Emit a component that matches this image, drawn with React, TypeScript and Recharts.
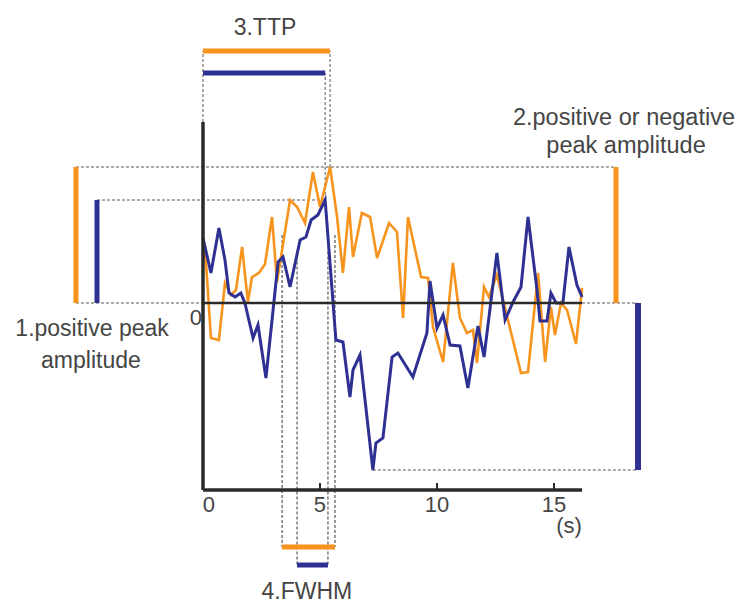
import React from 'react';
import { ComposedChart, Line, XAxis, YAxis, ReferenceLine, ReferenceDot } from 'recharts';

// ---- data (time in s, response in arbitrary units) ----
const blueT = [0, 0.34, 0.68, 0.94, 1.11, 1.37, 1.62, 1.79, 2.14, 2.35, 2.69, 3.21, 3.42, 3.72, 4.15, 4.4, 4.62, 4.91, 5.22, 5.68, 5.98, 6.28, 6.41, 6.71, 7.26, 7.39, 7.69, 8.08, 8.33, 8.97, 9.57, 9.7, 10.0, 10.26, 10.56, 10.98, 11.32, 11.75, 12.01, 12.56, 12.91, 13.25, 13.59, 13.89, 14.27, 14.4, 14.7, 14.87, 15.09, 15.38, 15.64, 15.98, 16.2];
const blueV = [0.65, 0.3, 0.75, 0.43, 0.1, 0.06, 0.1, 0.0, -0.35, -0.22, -0.75, 0.41, 0.46, 0.16, 0.63, 0.66, 0.83, 0.88, 1.03, -0.37, -0.39, -0.94, -0.67, -0.52, -1.67, -1.4, -1.35, -0.54, -0.5, -0.74, -0.3, 0.22, -0.25, -0.12, -0.42, -0.43, -0.85, -0.23, -0.54, 0.5, -0.17, 0.01, 0.16, 0.86, 0.14, -0.18, -0.18, 0.1, 0.0, 0.0, 0.56, 0.18, 0.06];

const orangeT = [0, 0.13, 0.34, 0.68, 0.94, 1.2, 1.41, 1.67, 1.92, 2.09, 2.39, 2.65, 2.95, 3.16, 3.38, 3.72, 4.02, 4.36, 4.7, 5.0, 5.43, 5.73, 5.98, 6.24, 6.41, 6.79, 7.14, 7.44, 7.95, 8.29, 8.55, 8.76, 9.32, 9.62, 9.83, 10.26, 10.68, 10.98, 11.28, 11.54, 11.71, 12.01, 12.22, 12.56, 13.59, 13.89, 14.32, 14.62, 14.87, 15.04, 15.3, 15.56, 15.94, 16.2];
const orangeV = [0.56, 0.4, -0.35, -0.37, 0.2, 0.08, 0.13, 0.56, 0.01, 0.26, 0.3, 0.39, 0.86, 0.21, 0.53, 1.03, 0.96, 0.8, 1.31, 0.96, 1.36, 0.86, 0.3, 0.96, 0.46, 0.9, 0.86, 0.45, 0.8, 0.71, -0.15, 0.86, 0.26, 0.25, -0.24, -0.59, 0.4, -0.15, -0.3, -0.27, -0.6, 0.16, 0.06, 0.28, -0.7, -0.69, 0.3, -0.59, -0.04, -0.32, 0.0, -0.07, -0.41, 0.15];

const xTicks = [0, 5, 10, 15];
const xTickLabels = ['0', '5', '10', '15'];

// FWHM intervals
const fwhmOrange = [3.38, 5.64];
const fwhmBlue = [4.02, 5.34];

// annotation layout (data units)
const X_DOMAIN: [number, number] = [-8.675, 23.077];
const Y_DOMAIN: [number, number] = [-3.02, 3.03];
const axisTop = 1.81;
const axisBottom = -1.87;
const axisEnd = 16.2;
const leftBarX = { orange: -5.43, blue: -4.53 };
const rightBarX = { orange: 17.65, blue: 18.59 };
const ttpBarY = { orange: 2.52, blue: 2.3 };
const fwhmBarY = { orange: -2.44, blue: -2.62 };

const ORANGE = '#F7941D';
const BLUE = '#2E3192';
const AXIS = '#2a2a2a';
const DASH = '#555555';
const TEXT = '#454545';
const FONT = '"Liberation Sans", Arial, Helvetica, sans-serif';

const blueData = blueT.map((t, i) => ({ t, v: blueV[i] }));
const orangeData = orangeT.map((t, i) => ({ t, v: orangeV[i] }));

const argMax = (a: number[]) => a.reduce((m, v, i) => (v > a[m] ? i : m), 0);
const argMin = (a: number[]) => a.reduce((m, v, i) => (v < a[m] ? i : m), 0);
const oPk = argMax(orangeV);
const bPk = argMax(blueV);
const bMn = argMin(blueV);
const oPeak = orangeV[oPk], oPeakT = orangeT[oPk];
const bPeak = blueV[bPk], bPeakT = blueT[bPk];
const bMin = blueV[bMn], bMinT = blueT[bMn];

const seg = (key: string, x1: number, y1: number, x2: number, y2: number, stroke: string, w: number, dash?: string, front?: boolean) => (
  <ReferenceLine
    key={key}
    segment={[{ x: x1, y: y1 }, { x: x2, y: y2 }]}
    stroke={stroke}
    strokeWidth={w}
    strokeDasharray={dash}
    ifOverflow="visible"
    {...(front ? { zIndex: 1000, isFront: true } : {})}
  />
);

const txt = (key: string, x: number, y: number, value: string, size: number) => (
  <ReferenceDot
    key={key}
    x={x}
    y={y}
    r={0}
    fill="none"
    stroke="none"
    ifOverflow="visible"
    label={(p: any) => {
      const vb = p.viewBox || p;
      const cx = vb.x + (vb.width || 0) / 2;
      const cy = vb.y + (vb.height || 0) / 2;
      return (
        <text x={cx} y={cy} textAnchor="middle" dominantBaseline="central" fill={TEXT} fontSize={size} fontFamily={FONT}>
          {value}
        </text>
      );
    }}
  />
);

const D = '3 2';

export default function App() {
  return (
    <div style={{ position: 'absolute', left: 0, top: 0, width: 743, height: 605, background: '#fff' }}>
      <ComposedChart width={743} height={605} margin={{ top: 0, right: 0, bottom: 0, left: 0 }}>
        <XAxis type="number" dataKey="t" domain={X_DOMAIN} allowDataOverflow hide />
        <YAxis type="number" dataKey="v" domain={Y_DOMAIN} allowDataOverflow hide />

        {/* dashed guides */}
        {seg('d1', leftBarX.orange, oPeak, rightBarX.orange, oPeak, DASH, 1, D)}
        {seg('d2', leftBarX.blue, bPeak, bPeakT, bPeak, DASH, 1, D)}
        {seg('d3', leftBarX.orange, 0, 0, 0, DASH, 1, D)}
        {seg('d4', axisEnd, 0, rightBarX.blue, 0, DASH, 1, D)}
        {seg('d5', bMinT, bMin, rightBarX.blue, bMin, DASH, 1, D)}
        {seg('d6', 0, axisTop, 0, ttpBarY.orange, DASH, 1, D)}
        {seg('d7', bPeakT, bPeak, bPeakT, ttpBarY.blue, DASH, 1, D)}
        {seg('d8', oPeakT, oPeak, oPeakT, ttpBarY.orange, DASH, 1, D)}
        {seg('f1', fwhmOrange[0], oPeak / 2, fwhmOrange[0], fwhmBarY.orange, DASH, 1.2, D)}
        {seg('f2', fwhmOrange[1], oPeak / 2, fwhmOrange[1], fwhmBarY.orange, DASH, 1.2, D)}
        {seg('f3', fwhmBlue[0], bPeak / 2, fwhmBlue[0], fwhmBarY.blue, DASH, 1.2, D)}
        {seg('f4', fwhmBlue[1], bPeak / 2, fwhmBlue[1], fwhmBarY.blue, DASH, 1.2, D)}

        {/* solid measure bars */}
        {seg('b1', leftBarX.orange, 0, leftBarX.orange, oPeak, ORANGE, 5)}
        {seg('b2', leftBarX.blue, 0, leftBarX.blue, bPeak, BLUE, 5)}
        {seg('b3', rightBarX.orange, 0, rightBarX.orange, oPeak, ORANGE, 5)}
        {seg('b4', rightBarX.blue, 0, rightBarX.blue, bMin, BLUE, 6)}
        {seg('b5', 0, ttpBarY.orange, oPeakT, ttpBarY.orange, ORANGE, 5)}
        {seg('b6', 0, ttpBarY.blue, bPeakT, ttpBarY.blue, BLUE, 5)}
        {seg('b7', fwhmOrange[0], fwhmBarY.orange, fwhmOrange[1], fwhmBarY.orange, ORANGE, 5)}
        {seg('b8', fwhmBlue[0], fwhmBarY.blue, fwhmBlue[1], fwhmBarY.blue, BLUE, 5)}

        <Line data={orangeData} dataKey="v" type="linear" stroke={ORANGE} strokeWidth={2.6} dot={false} activeDot={false} isAnimationActive={false} />
        <Line data={blueData} dataKey="v" type="linear" stroke={BLUE} strokeWidth={3} dot={false} activeDot={false} isAnimationActive={false} />

        {/* axes */}
        {seg('a1', 0, axisTop, 0, axisBottom, AXIS, 3.5, undefined, true)}
        {seg('a2', 0, 0, axisEnd, 0, AXIS, 2.4, undefined, true)}
        {seg('a3', 0, axisBottom, axisEnd, axisBottom, AXIS, 3.5, undefined, true)}
        {xTicks.filter((t) => t > 0).map((t) => seg('tk' + t, t, axisBottom, t, axisBottom + 0.07, AXIS, 2, undefined, true))}

        {/* texts */}
        {xTicks.map((t, i) => txt('tl' + t, t === 0 ? 0.25 : t, -2.01, xTickLabels[i], 22))}
        {txt('y0', -0.3, -0.14, '0', 22)}
        {txt('unit', 15.64, -2.22, '(s)', 22)}
        {txt('t3', 2.65, 2.76, '3.TTP', 23)}
        {txt('t1a', -4.74, -0.25, '1.positive peak', 23)}
        {txt('t1b', -4.79, -0.57, 'amplitude', 23)}
        {txt('t2a', 17.99, 1.86, '2.positive or negative', 23.5)}
        {txt('t2b', 18.08, 1.58, 'peak amplitude', 23.5)}
        {txt('t4', 4.44, -2.88, '4.FWHM', 23)}
      </ComposedChart>
    </div>
  );
}
